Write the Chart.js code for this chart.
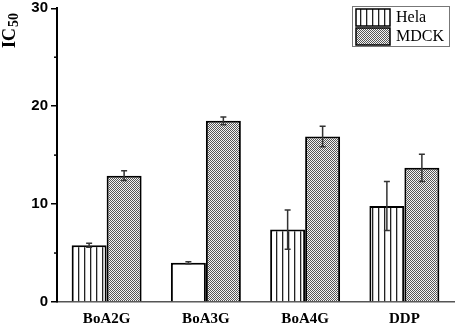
<!DOCTYPE html>
<html>
<head>
<meta charset="utf-8">
<script src="https://cdn.jsdelivr.net/npm/chart.js@4.4.1/dist/chart.umd.min.js"></script>
<style>
  html, body { margin: 0; padding: 0; background: #fff; }
  #wrap { width: 457px; height: 327px; position: relative; }
</style>
</head>
<body>
<div id="wrap"><canvas id="myChart"></canvas></div>
<script>
// values
let categories = ['BoA2G', 'BoA3G', 'BoA4G', 'DDP']
let seriesNames = ['Hela', 'MDCK']
let helaValues = [5.8, 4.0, 7.4, 9.8]
let helaErrors = [0.2, 0.1, 2.0, 2.5]
let mdckValues = [12.9, 18.5, 16.9, 13.7]
let mdckErrors = [0.5, 0.4, 1.05, 1.4]
let yTicks = [0, 10, 20, 30]
let yMinorTicks = [5, 15, 25]

// fill patterns
function makeLines() {
    let c = document.createElement('canvas')
    c.width = 6; c.height = 6
    let g = c.getContext('2d')
    g.fillStyle = '#fff'
    g.fillRect(0, 0, 6, 6)
    g.fillStyle = '#222'
    g.fillRect(0, 0, 1.3, 6)
    return g.createPattern(c, 'repeat')
}
function makeCheck() {
    let c = document.createElement('canvas')
    c.width = 2; c.height = 2
    let g = c.getContext('2d')
    g.fillStyle = '#f4f4f4'
    g.fillRect(0, 0, 2, 2)
    g.fillStyle = '#555'
    g.fillRect(0, 0, 1, 1)
    g.fillRect(1, 1, 1, 1)
    return g.createPattern(c, 'repeat')
}
let linesFill = makeLines()
let checkFill = makeCheck()

let errorBars = {
    id: 'errorBars',
    afterDatasetsDraw(chart) {
        let ctx = chart.ctx
        let y = chart.scales.y
        let errs = [helaErrors, mdckErrors]
        ctx.save()
        ctx.strokeStyle = '#333'
        ctx.lineWidth = 1.5
        chart.data.datasets.forEach(function (ds, i) {
            chart.getDatasetMeta(i).data.forEach(function (bar, j) {
                let v = ds.data[j], e = errs[i][j]
                let top = y.getPixelForValue(v + e)
                let bot = y.getPixelForValue(v - e)
                ctx.beginPath()
                ctx.moveTo(bar.x, top); ctx.lineTo(bar.x, bot)
                ctx.moveTo(bar.x - 3, top); ctx.lineTo(bar.x + 3, top)
                ctx.moveTo(bar.x - 3, bot); ctx.lineTo(bar.x + 3, bot)
                ctx.stroke()
            })
        })
        ctx.restore()
    }
}

let extras = {
    id: 'extras',
    afterDraw(chart) {
        let ctx = chart.ctx
        let y = chart.scales.y
        let left = chart.chartArea.left
        ctx.save()
        // minor ticks
        ctx.strokeStyle = '#000'
        ctx.lineWidth = 1.5
        yMinorTicks.forEach(function (v) {
            let p = y.getPixelForValue(v)
            ctx.beginPath()
            ctx.moveTo(left - 3, p); ctx.lineTo(left, p)
            ctx.stroke()
        })
        // y title IC50
        ctx.fillStyle = '#000'
        ctx.translate(15, 48)
        ctx.rotate(-Math.PI / 2)
        ctx.textBaseline = 'alphabetic'
        ctx.textAlign = 'left'
        ctx.font = 'bold 18px "Liberation Serif"'
        ctx.fillText('IC', 0, 0)
        let w = ctx.measureText('IC').width
        ctx.font = 'bold 14px "Liberation Serif"'
        ctx.fillText('50', w + 1, 3)
        ctx.restore()

        // legend
        ctx.save()
        ctx.strokeStyle = '#777'
        ctx.lineWidth = 1
        ctx.strokeRect(352.5, 6.5, 97, 40)
        let fills = [linesFill, checkFill]
        ctx.font = '16px "Liberation Serif"'
        ctx.textBaseline = 'middle'
        ctx.fillStyle = '#000'
        seriesNames.forEach(function (name, i) {
            let ty = 9 + i * 19
            ctx.fillStyle = fills[i]
            ctx.fillRect(356, ty, 34, 17)
            ctx.strokeStyle = '#000'
            ctx.lineWidth = 1.5
            ctx.strokeRect(356, ty, 34, 17)
            ctx.fillStyle = '#000'
            ctx.fillText(name, 396, ty + 9)
        })
        ctx.restore()
    }
}

let ctx = document.getElementById('myChart').getContext('2d')
let chart = new Chart(ctx, {
    type: 'bar',
    data: {
        labels: categories,
        datasets: [{
            label: seriesNames[0],
            data: helaValues,
            backgroundColor: [linesFill, '#fff', linesFill, linesFill],
            borderColor: '#000',
            borderWidth: 2,
            borderSkipped: 'bottom'
        }, {
            label: seriesNames[1],
            data: mdckValues,
            backgroundColor: checkFill,
            borderColor: '#000',
            borderWidth: 2,
            borderSkipped: 'bottom'
        }]
    },
    options: {
        responsive: true,
        maintainAspectRatio: false,
        animation: false,
        layout: { padding: { top: 8, right: 3, left: 0, bottom: 0 } },
        plugins: {
            legend: { display: false },
            tooltip: { enabled: false }
        },
        datasets: {
            bar: { categoryPercentage: 0.705, barPercentage: 1.0 }
        },
        scales: {
            x: {
                grid: { display: false },
                border: { display: true, color: '#555', width: 1.5 },
                ticks: {
                    color: '#000',
                    padding: 2,
                    font: { family: 'Liberation Serif', size: 15, weight: 'bold', lineHeight: 1 }
                },
                afterFit(scale) { scale.height = 25 }
            },
            y: {
                min: 0,
                max: 30,
                afterBuildTicks(scale) {
                    scale.ticks = yTicks.map(function (v) { return { value: v } })
                },
                grid: {
                    drawOnChartArea: false,
                    tickLength: 6,
                    color: '#000',
                    lineWidth: 1.5
                },
                border: { display: true, color: '#000', width: 2 },
                ticks: {
                    color: '#000',
                    padding: 3,
                    font: { family: 'Liberation Sans', size: 15, weight: 'bold', lineHeight: 0.7 }
                },
                afterFit(scale) { scale.width = 57 }
            }
        }
    },
    plugins: [errorBars, extras]
})
</script>
</body>
</html>
